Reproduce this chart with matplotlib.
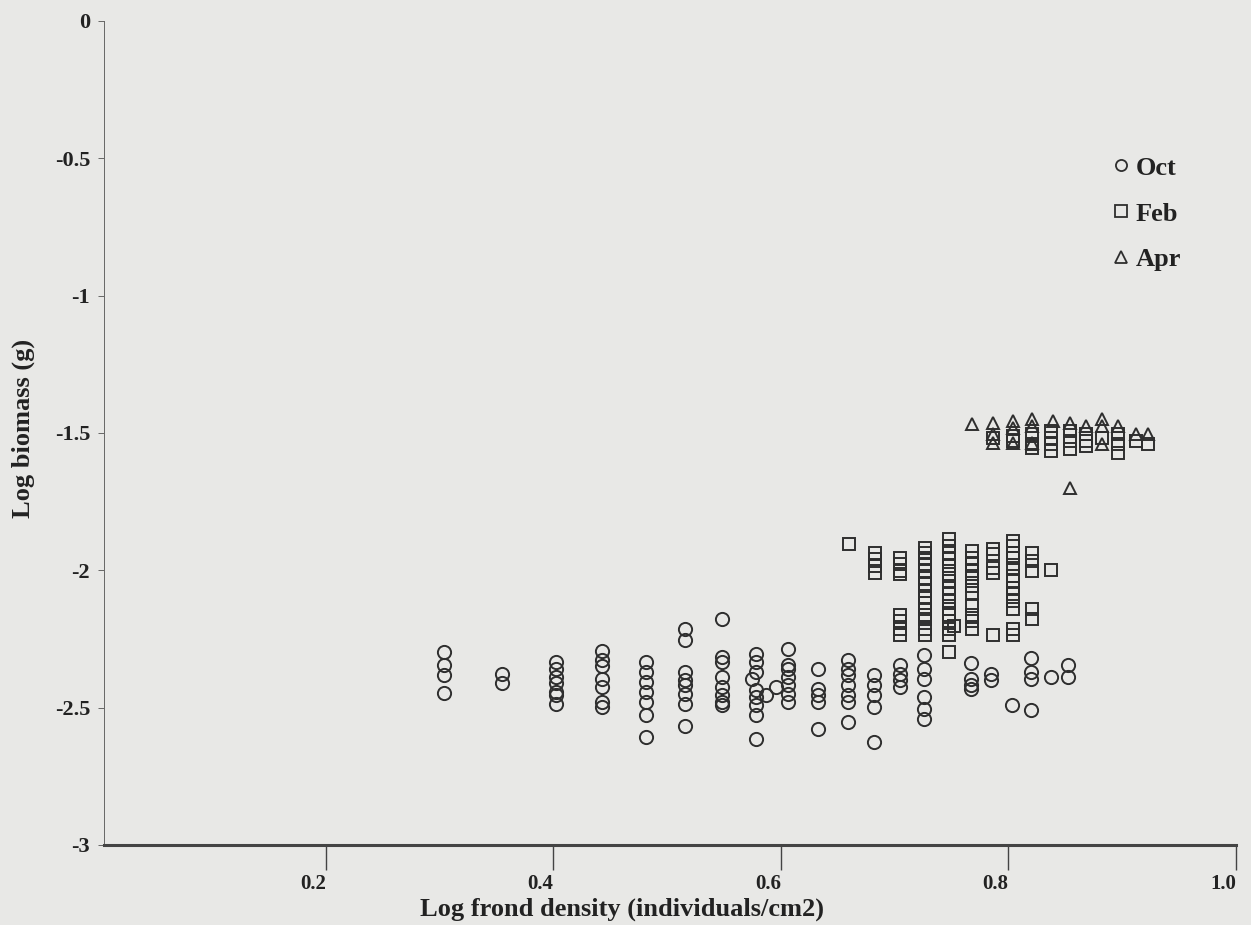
import numpy as np
import matplotlib
matplotlib.use('Agg')
import matplotlib.pyplot as plt
from matplotlib.lines import Line2D

plt.rcParams.update({
    'font.family': ['Liberation Serif', 'DejaVu Serif'],
    'font.weight': 'bold',
})

# ---- data (log10 values) ----
# October: frond density columns and the biomass values stacked in each
oct_x = [0.304, 0.355, 0.402, 0.443, 0.481, 0.516, 0.548, 0.575, 0.578,
         0.587, 0.596, 0.606, 0.633, 0.659, 0.682, 0.705, 0.726, 0.767,
         0.785, 0.803, 0.820, 0.837, 0.852]
oct_y = [
    [-2.296, -2.343, -2.380, -2.445],
    [-2.376, -2.412],
    [-2.332, -2.358, -2.387, -2.412, -2.442, -2.453, -2.485],
    [-2.292, -2.325, -2.350, -2.394, -2.423, -2.478, -2.496],
    [-2.332, -2.369, -2.405, -2.442, -2.478, -2.526, -2.606],
    [-2.215, -2.252, -2.369, -2.398, -2.416, -2.449, -2.485, -2.566],
    [-2.179, -2.314, -2.332, -2.387, -2.423, -2.453, -2.478, -2.489],
    [-2.394],
    [-2.303, -2.332, -2.369, -2.434, -2.460, -2.489, -2.526, -2.613],
    [-2.453],
    [-2.423],
    [-2.285, -2.343, -2.358, -2.387, -2.416, -2.449, -2.478],
    [-2.358, -2.431, -2.453, -2.478, -2.577],
    [-2.328, -2.358, -2.380, -2.416, -2.453, -2.478, -2.551],
    [-2.380, -2.416, -2.453, -2.496, -2.624],
    [-2.343, -2.376, -2.398, -2.423],
    [-2.307, -2.358, -2.394, -2.460, -2.504, -2.540],
    [-2.339, -2.394, -2.416, -2.431],
    [-2.376, -2.398],
    [-2.489],
    [-2.321, -2.369, -2.394, -2.507],
    [-2.387],
    [-2.343, -2.387],
]

# February
feb_x = [0.660, 0.683, 0.705, 0.727, 0.748, 0.752, 0.768, 0.786, 0.804,
         0.821, 0.837, 0.854, 0.868, 0.882, 0.896, 0.912, 0.923]
feb_y = [
    [-1.905],
    [-1.938, -1.960, -1.985, -2.011],
    [-1.956, -1.978, -2.004, -2.015, -2.161, -2.186, -2.212, -2.234],
    [-1.920, -1.938, -1.956, -1.978, -2.004, -2.029, -2.051, -2.077,
     -2.102, -2.120, -2.142, -2.161, -2.179, -2.212, -2.234],
    [-1.887, -1.912, -1.938, -1.960, -1.985, -2.015, -2.040, -2.066,
     -2.088, -2.113, -2.139, -2.161, -2.186, -2.212, -2.234, -2.296],
    [-2.201],
    [-1.931, -1.956, -1.978, -2.004, -2.029, -2.058, -2.084, -2.131,
     -2.161, -2.186, -2.215],
    [-1.923, -1.942, -1.993, -2.011, -2.234, -1.518],
    [-1.894, -1.912, -1.938, -1.956, -1.993, -2.022, -2.040, -2.066,
     -2.088, -2.113, -2.142, -2.212, -2.234, -1.511, -1.529],
    [-1.938, -1.967, -2.004, -2.139, -2.179, -1.504, -1.540, -1.555],
    [-2.000, -1.493, -1.518, -1.540, -1.566],
    [-1.493, -1.529, -1.558],
    [-1.504, -1.529, -1.547],
    [-1.518],
    [-1.504, -1.540, -1.573],
    [-1.529],
    [-1.540],
]

# April
apr_x = [0.768, 0.786, 0.804, 0.821, 0.839, 0.854, 0.868, 0.882, 0.896,
         0.912, 0.923]
apr_y = [
    [-1.467],
    [-1.464, -1.504, -1.536],
    [-1.456, -1.482, -1.536],
    [-1.449, -1.474, -1.536],
    [-1.456],
    [-1.464, -1.700],
    [-1.474],
    [-1.449, -1.474, -1.540],
    [-1.474],
    [-1.504],
    [-1.504],
]

y_ticks = [0, -0.5, -1, -1.5, -2, -2.5, -3]
y_tick_labels = ['0', '-0.5', '-1', '-1.5', '-2', '-2.5', '-3']
x_ticks = [0.2, 0.4, 0.6, 0.8, 1.0]
x_tick_labels = ['0.2', '0.4', '0.6', '0.8', '1.0']


def flatten(xs, ys):
    px, py = [], []
    for x, col in zip(xs, ys):
        px.extend([x] * len(col))
        py.extend(col)
    return np.array(px), np.array(py)


bg = '#e8e8e6'
ink = '#2e2e2e'

fig = plt.figure(figsize=(12.51, 9.25), dpi=100, facecolor=bg)
ax = fig.add_axes([0.0831, 0.0865, 0.9049, 0.8908])
ax.set_facecolor(bg)

series = [
    ('Oct', oct_x, oct_y, 'o', 9.5),
    ('Feb', feb_x, feb_y, 's', 9.0),
    ('Apr', apr_x, apr_y, '^', 9.0),
]
handles = []
for label, xs, ys, marker, ms in series:
    px, py = flatten(xs, ys)
    ax.plot(px, py, linestyle='none', marker=marker, markersize=ms,
            markerfacecolor='none', markeredgecolor=ink, markeredgewidth=1.4)
    handles.append(Line2D([], [], linestyle='none', marker=marker, markersize=8,
                          markerfacecolor='none', markeredgecolor=ink,
                          markeredgewidth=1.3, label=label))

ax.set_xlim(0.005, 1.0)
ax.set_ylim(-3, 0)

for side in ['top', 'right']:
    ax.spines[side].set_visible(False)
ax.spines['bottom'].set_linewidth(2.2)
ax.spines['bottom'].set_color('#444444')
ax.spines['left'].set_linewidth(0.7)
ax.spines['left'].set_color('#666666')

ax.set_xticks(x_ticks)
ax.set_xticklabels(x_tick_labels, ha='right')
ax.set_yticks(y_ticks)
ax.set_yticklabels(y_tick_labels)
ax.tick_params(axis='x', direction='out', length=18, width=1.0, color='#444444',
               pad=3, labelsize=15, labelcolor='#222222')
ax.tick_params(axis='y', direction='out', length=4, width=0.7, color='#666666',
               pad=6, labelsize=16, labelcolor='#222222')

ax.set_xlabel('Log frond density (individuals/cm2)', fontsize=19,
              fontweight='bold', color='#222222', labelpad=0)
ax.xaxis.set_label_coords(0.458, -0.064)
ax.set_ylabel('Log biomass (g)', fontsize=19, fontweight='bold',
              color='#222222', labelpad=0)
ax.yaxis.set_label_coords(-0.061, 0.506)

ax.legend(handles=handles, loc='upper left', bbox_to_anchor=(0.889, 0.836),
          frameon=False, fontsize=19, handlelength=0.8, handletextpad=0.15,
          labelspacing=0.85, borderpad=0, borderaxespad=0,
          labelcolor='#222222')

fig.savefig('out.png', dpi=100, facecolor=bg)
